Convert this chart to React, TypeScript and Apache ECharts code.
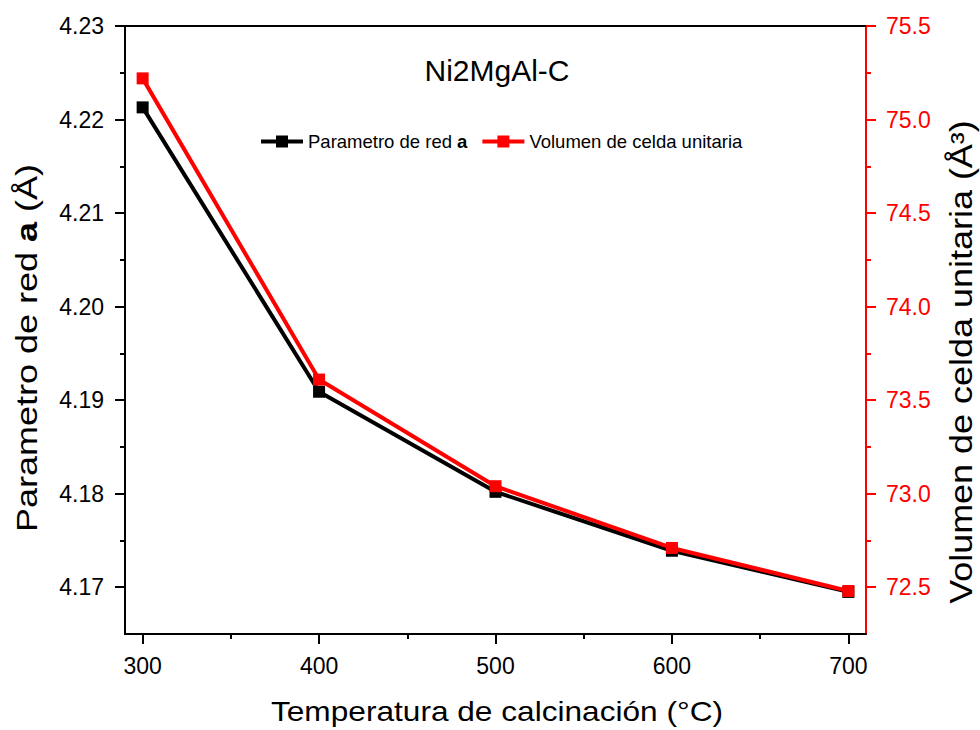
import React, { useEffect, useRef } from "react";
import * as echarts from "echarts";

const temps = [300, 400, 500, 600, 700];
const latticeA = [4.2213, 4.1909, 4.1802, 4.1739, 4.1695];
const cellVolume = [75.22, 73.61, 73.04, 72.71, 72.48];

const xMajorTicks = [300, 400, 500, 600, 700];
const xMinorTicks = [350, 450, 550, 650];
const leftMajorTicks = [4.17, 4.18, 4.19, 4.2, 4.21, 4.22, 4.23];
const leftMinorTicks = [4.175, 4.185, 4.195, 4.205, 4.215, 4.225];
const rightMajorTicks = [72.5, 73.0, 73.5, 74.0, 74.5, 75.0, 75.5];
const rightMinorTicks = [72.75, 73.25, 73.75, 74.25, 74.75, 75.25];

const chartTitle = "Ni2MgAl-C";
const xTitle = "Temperatura de calcinación (°C)";
const rightTitle = "Volumen de celda unitaria (Å³)";
const seriesNames = ["Parametro de red a", "Volumen de celda unitaria"];

const FONT = '"Liberation Sans", Arial, Helvetica, sans-serif';
const RED = "#ff0000";

export default function App() {
  const ref = useRef<HTMLDivElement>(null);

  useEffect(() => {
    document.body.style.margin = "0";
    if (!ref.current) return;
    const chart = echarts.init(ref.current, undefined, { renderer: "svg" });

    const xBase = { type: "value", min: 290, max: 710, splitLine: { show: false } };
    const leftBase = { type: "value", min: 4.165, max: 4.23, position: "left", splitLine: { show: false } };
    const rightBase = { type: "value", min: 72.25, max: 75.5, position: "right", splitLine: { show: false } };

    chart.setOption({
      animation: false,
      textStyle: { fontFamily: FONT },
      grid: { left: 125, right: 114, top: 26, bottom: 96, containLabel: false },
      graphic: [
        {
          type: "text",
          x: 497,
          y: 70,
          style: {
            text: chartTitle,
            fontSize: 30,
            fontFamily: FONT,
            fill: "#000",
            align: "center",
            verticalAlign: "middle",
          },
        },
        {
          type: "text",
          x: 497,
          y: 711,
          scaleX: 1.13,
          style: {
            text: xTitle,
            fontSize: 28,
            fontFamily: FONT,
            fill: "#000",
            align: "center",
            verticalAlign: "middle",
          },
        },
        {
          type: "text",
          x: 27,
          y: 348,
          rotation: Math.PI / 2,
          scaleX: 1.2,
          style: {
            text: "{n|Parametro de red }{b|a}{n| (Å)}",
            fontSize: 30,
            fontFamily: FONT,
            fill: "#000",
            align: "center",
            verticalAlign: "middle",
            rich: {
              n: { fontSize: 30, fontFamily: FONT, fill: "#000" },
              b: { fontSize: 30, fontFamily: FONT, fill: "#000", fontWeight: "bold" },
            },
          },
        },
        {
          type: "text",
          x: 961,
          y: 362,
          rotation: Math.PI / 2,
          scaleX: 1.16,
          style: {
            text: rightTitle,
            fontSize: 31,
            fontFamily: FONT,
            fill: "#000",
            align: "center",
            verticalAlign: "middle",
          },
        },
      ],
      legend: {
        left: 254,
        top: 127,
        itemWidth: 42,
        itemHeight: 15,
        itemGap: 13,
        data: seriesNames,
        lineStyle: { width: 4 },
        formatter: (name: string) =>
          name === seriesNames[0] ? "{n|Parametro de red }{b|a}" : "{n|" + name + "}",
        textStyle: {
          fontFamily: FONT,
          fontSize: 18.5,
          color: "#000",
          rich: {
            n: { fontFamily: FONT, fontSize: 18.5, color: "#000" },
            b: { fontFamily: FONT, fontSize: 18.5, color: "#000", fontWeight: "bold" },
          },
        },
      },
      xAxis: [
        {
          ...xBase,
          position: "bottom",
          axisLine: { show: true, lineStyle: { color: "#000", width: 2 } },
          axisTick: { show: true, customValues: xMajorTicks, length: 10, lineStyle: { color: "#000", width: 2 } },
          axisLabel: { customValues: xMajorTicks, fontSize: 23, fontFamily: FONT, color: "#000", margin: 20 },
        },
        {
          ...xBase,
          position: "bottom",
          axisLine: { show: false },
          axisTick: { show: true, customValues: xMinorTicks, length: 5, lineStyle: { color: "#000", width: 2 } },
          axisLabel: { show: false },
        },
        {
          ...xBase,
          position: "top",
          axisLine: { show: true, lineStyle: { color: "#000", width: 2 } },
          axisTick: { show: false },
          axisLabel: { show: false },
        },
      ],
      yAxis: [
        {
          ...leftBase,
          axisLine: { show: true, lineStyle: { color: "#000", width: 2 } },
          axisTick: { show: true, customValues: leftMajorTicks, length: 10, lineStyle: { color: "#000", width: 2 } },
          axisLabel: {
            customValues: leftMajorTicks,
            fontSize: 23,
            fontFamily: FONT,
            color: "#000",
            margin: 21,
            formatter: (v: number) => v.toFixed(2),
          },
        },
        {
          ...leftBase,
          axisLine: { show: false },
          axisTick: { show: true, customValues: leftMinorTicks, length: 5, lineStyle: { color: "#000", width: 2 } },
          axisLabel: { show: false },
        },
        {
          ...rightBase,
          axisLine: { show: true, lineStyle: { color: RED, width: 2 } },
          axisTick: { show: true, customValues: rightMajorTicks, length: 10, lineStyle: { color: RED, width: 2 } },
          axisLabel: {
            customValues: rightMajorTicks,
            fontSize: 23,
            fontFamily: FONT,
            color: RED,
            margin: 20,
            formatter: (v: number) => v.toFixed(1),
          },
        },
        {
          ...rightBase,
          axisLine: { show: false },
          axisTick: { show: true, customValues: rightMinorTicks, length: 5, lineStyle: { color: RED, width: 2 } },
          axisLabel: { show: false },
        },
      ],
      series: [
        {
          type: "line",
          name: seriesNames[0],
          xAxisIndex: 0,
          yAxisIndex: 0,
          data: temps.map((t, i) => [t, latticeA[i]]),
          symbol: "rect",
          symbolSize: 12,
          lineStyle: { color: "#000", width: 4 },
          itemStyle: { color: "#000" },
          z: 2,
        },
        {
          type: "line",
          name: seriesNames[1],
          xAxisIndex: 0,
          yAxisIndex: 2,
          data: temps.map((t, i) => [t, cellVolume[i]]),
          symbol: "rect",
          symbolSize: 12,
          lineStyle: { color: RED, width: 4 },
          itemStyle: { color: RED },
          z: 3,
        },
      ],
    });

    return () => chart.dispose();
  }, []);

  return (
    <div
      ref={ref}
      style={{ position: "absolute", left: 0, top: 0, width: 980, height: 730, background: "#fff" }}
    />
  );
}
